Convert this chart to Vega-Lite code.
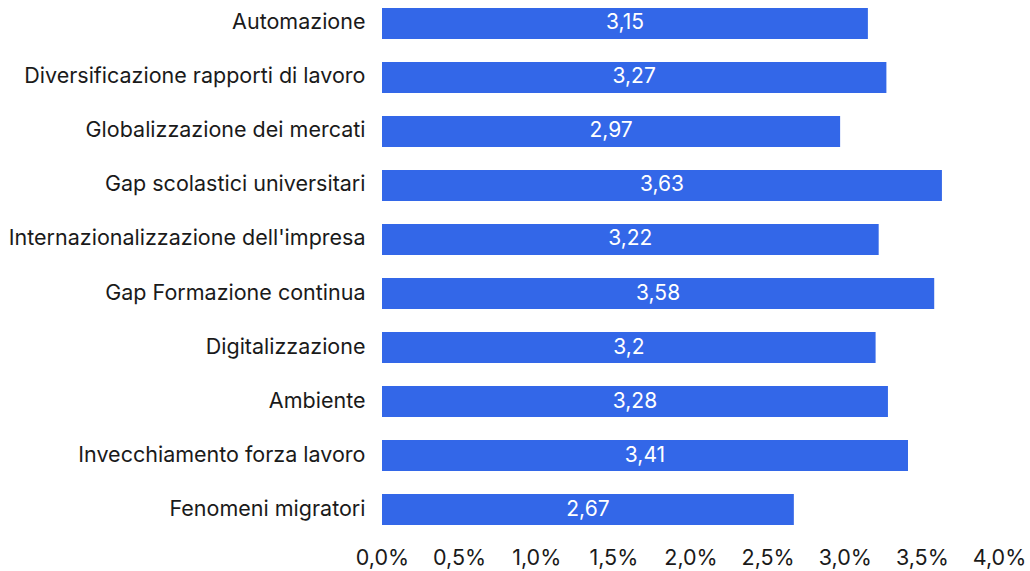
{
  "$schema": "https://vega.github.io/schema/vega-lite/v6.json",
  "autosize": {"type": "none"},
  "padding": {"left": 382, "top": 0, "right": 31, "bottom": 38},
  "width": 617,
  "height": 533,
  "background": "white",
  "config": {
    "view": {"stroke": null},
    "font": "Inter",
    "locale": {"number": {"decimal": ",", "thousands": ".", "grouping": [3], "currency": ["€", ""]}}
  },
  "data": {
    "values": [
      {"fattore": "Automazione", "valore": 3.15},
      {"fattore": "Diversificazione rapporti di lavoro", "valore": 3.27},
      {"fattore": "Globalizzazione dei mercati", "valore": 2.97},
      {"fattore": "Gap scolastici universitari", "valore": 3.63},
      {"fattore": "Internazionalizzazione dell'impresa", "valore": 3.22},
      {"fattore": "Gap Formazione continua", "valore": 3.58},
      {"fattore": "Digitalizzazione", "valore": 3.2},
      {"fattore": "Ambiente", "valore": 3.28},
      {"fattore": "Invecchiamento forza lavoro", "valore": 3.41},
      {"fattore": "Fenomeni migratori", "valore": 2.67}
    ]
  },
  "transform": [{"calculate": "datum.valore / 2", "as": "meta"}],
  "encoding": {
    "y": {
      "field": "fattore",
      "type": "nominal",
      "sort": null,
      "scale": {"paddingInner": 0.43, "paddingOuter": 0.15},
      "axis": {
        "title": null,
        "domain": false,
        "ticks": false,
        "labelFontSize": 21.5,
        "labelColor": "#1a1a1a",
        "labelPadding": 17,
        "labelLimit": 400
      }
    }
  },
  "layer": [
    {
      "mark": {"type": "bar", "color": "#3367e8"},
      "encoding": {
        "x": {
          "field": "valore",
          "type": "quantitative",
          "scale": {"domain": [0, 4], "nice": false},
          "axis": {
            "title": null,
            "domain": false,
            "ticks": false,
            "grid": false,
            "values": [0, 0.5, 1, 1.5, 2, 2.5, 3, 3.5, 4],
            "labelExpr": "replace(format(datum.value, '.1f'), '.', ',') + '%'",
            "labelFontSize": 21.5,
            "labelColor": "#1a1a1a",
            "labelPadding": 14,
            "labelFlush": false
          }
        }
      }
    },
    {
      "mark": {"type": "text", "color": "white", "fontSize": 21, "align": "center", "baseline": "middle"},
      "encoding": {
        "x": {"field": "meta", "type": "quantitative"},
        "text": {"field": "valore", "type": "quantitative", "format": ".2~f"}
      }
    }
  ]
}
